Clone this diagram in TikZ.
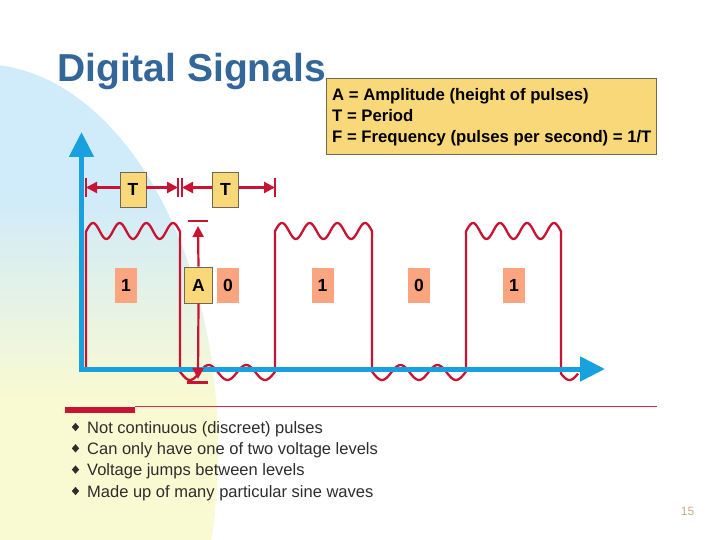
\documentclass[tikz,border=0pt]{standalone}
\usepackage{fontspec}
\setmainfont{Liberation Sans}
\usetikzlibrary{arrows.meta,shapes.geometric}
\definecolor{titleblue}{RGB}{51,102,153}
\definecolor{axisblue}{RGB}{25,160,222}
\definecolor{sigred}{RGB}{200,20,50}
\definecolor{boxyellow}{RGB}{249,216,122}
\definecolor{boxborder}{RGB}{110,105,85}
\definecolor{salmon}{RGB}{250,165,128}
\definecolor{bgblue}{RGB}{208,235,249}
\definecolor{bgyellow}{RGB}{250,250,210}
\definecolor{textgray}{RGB}{45,45,45}
\definecolor{pagenum}{RGB}{205,170,135}
\definecolor{thinred}{RGB}{215,45,75}
\begin{document}
\begin{tikzpicture}[x=1pt,y=-1pt,
  tbox/.style={draw=boxborder, line width=0.8pt, fill=boxyellow, minimum width=26pt, minimum height=35pt, inner sep=0pt, font=\fontsize{17.5}{18}\selectfont\bfseries},
  bitbox/.style={fill=salmon, minimum width=22pt, minimum height=35pt, inner sep=0pt, font=\fontsize{17.5}{18}\selectfont\bfseries},
  sig/.style={draw=sigred, line width=2.3pt, line join=round},
  dimline/.style={draw=sigred, line width=2.2pt},
  dimtip/.style={-{Triangle[length=11pt,width=11pt]}},
  axisline/.style={draw=axisblue, line width=5pt, -{Triangle[length=25pt,width=24pt]}},
  bulletmark/.style={diamond, fill=textgray, inner sep=0pt, minimum width=7.5pt, minimum height=8.5pt},
  btext/.style={anchor=base west, inner sep=0pt, text=textgray, font=\fontsize{16.5}{18}\selectfont},
  infotext/.style={anchor=base west, inner sep=0pt, text=black, font=\fontsize{16.7}{18}\selectfont\bfseries},
]
\useasboundingbox (0,0) rectangle (720,540);
\fill[white] (0,0) rectangle (720,540);
% background shape
\begin{scope}
  \clip (-20,450) ellipse [x radius=238pt, y radius=386pt];
  \fill[bgblue] (-30,0) rectangle (270,201);
  \shade[top color=bgblue, bottom color=bgyellow] (-30,200) rectangle (270,401);
  \fill[bgyellow] (-30,400) rectangle (270,560);
\end{scope}
% title
\node[anchor=base west, inner sep=0pt, text=titleblue, font=\fontsize{39}{40}\selectfont\bfseries] (title) at (57,82) {Digital Signals};
% info box
\node[draw=boxborder, fill=boxyellow, line width=1pt, minimum width=330pt, minimum height=76pt, anchor=north west, inner sep=0pt] (info) at (326,78) {};
\node[infotext] (i1) at (332,101) {A = Amplitude (height of pulses)};
\node[infotext] (i2) at (332,122) {T = Period};
\node[infotext] (i3) at (332,143) {F = Frequency (pulses per second) = 1/T};
% signal
\draw[sig] (86,370)
  -- plot[domain=86:180, samples=80] (\x,{231-8*cos(13.4983*(\x-93))})
  -- plot[domain=180:275, samples=60] (\x,{372.5+7.5*cos(9.6*(\x-190))})
  -- plot[domain=275:372, samples=80] (\x,{231-8*cos(13.0105*(\x-282))})
  -- plot[domain=372:466, samples=60] (\x,{372.5+7.5*cos(9.7297*(\x-382))})
  -- plot[domain=466:561, samples=80] (\x,{231-8*cos(13.3333*(\x-473))})
  -- plot[domain=561:578, samples=20] (\x,{372.5+7.5*cos(9.6*(\x-569.5))});
% axes
\coordinate (origin) at (81.5,369);
\coordinate (ytip) at (81.5,132);
\coordinate (xtip) at (605,369);
\draw[axisline] (81.5,371.5) -- (ytip);
\draw[axisline] (79,369) -- (xtip);
% bit labels
\node[bitbox] (l1) at (126,285) {1};
\node[bitbox] (l2) at (228,285) {0};
\node[bitbox] (l3) at (322.5,285) {1};
\node[bitbox] (l4) at (419,285) {0};
\node[bitbox] (l5) at (514,285) {1};
% period markers
\coordinate (b1) at (86,187.5);
\coordinate (b2) at (178,187.5);
\coordinate (b3) at (182,187.5);
\coordinate (b4) at (275,187.5);
\draw[dimline] (86,178) -- (86,197);
\draw[dimline] (178,178) -- (178,197);
\draw[dimline] (182,178) -- (182,197);
\draw[dimline] (275,178) -- (275,197);
\node[tbox] (T1) at (133,189.5) {T};
\node[tbox] (T2) at (225.5,189.5) {T};
\draw[dimline, dimtip] (T1.west |- b1) -- (b1);
\draw[dimline, dimtip] (T1.east |- b2) -- (b2);
\draw[dimline, dimtip] (T2.west |- b3) -- (b3);
\draw[dimline, dimtip] (T2.east |- b4) -- (b4);
% amplitude marker
\coordinate (Atop) at (198,226);
\coordinate (Abot) at (198,379);
\draw[dimline] (188,221) -- (208,221);
\draw[dimline] (187,382.5) -- (208,382.5);
\node[tbox, minimum width=28pt, minimum height=36pt] (Abox) at (198.5,285) {A};
\draw[dimline, dimtip] (Abox.north) -- (Atop);
\draw[dimline, dimtip] (Abox.south) -- (Abot);
% separator
\draw[thinred, line width=0.9pt] (135,406) -- (657,406);
\fill[sigred] (65,407) rectangle (135,413);
% bullets
\node[bulletmark] (d1) at (75.5,427) {};
\node[btext] (s1) at (87,433) {Not continuous (discreet) pulses};
\node[bulletmark] (d2) at (75.5,448.3) {};
\node[btext] (s2) at (87,454.3) {Can only have one of two voltage levels};
\node[bulletmark] (d3) at (75.5,469.6) {};
\node[btext] (s3) at (87,475.6) {Voltage jumps between levels};
\node[bulletmark] (d4) at (75.5,491) {};
\node[btext] (s4) at (87,497) {Made up of many particular sine waves};
% page number
\node[anchor=base, inner sep=0pt, text=pagenum, font=\fontsize{12}{12}\selectfont] (pg) at (687.5,515) {15};
\end{tikzpicture}
\end{document}
